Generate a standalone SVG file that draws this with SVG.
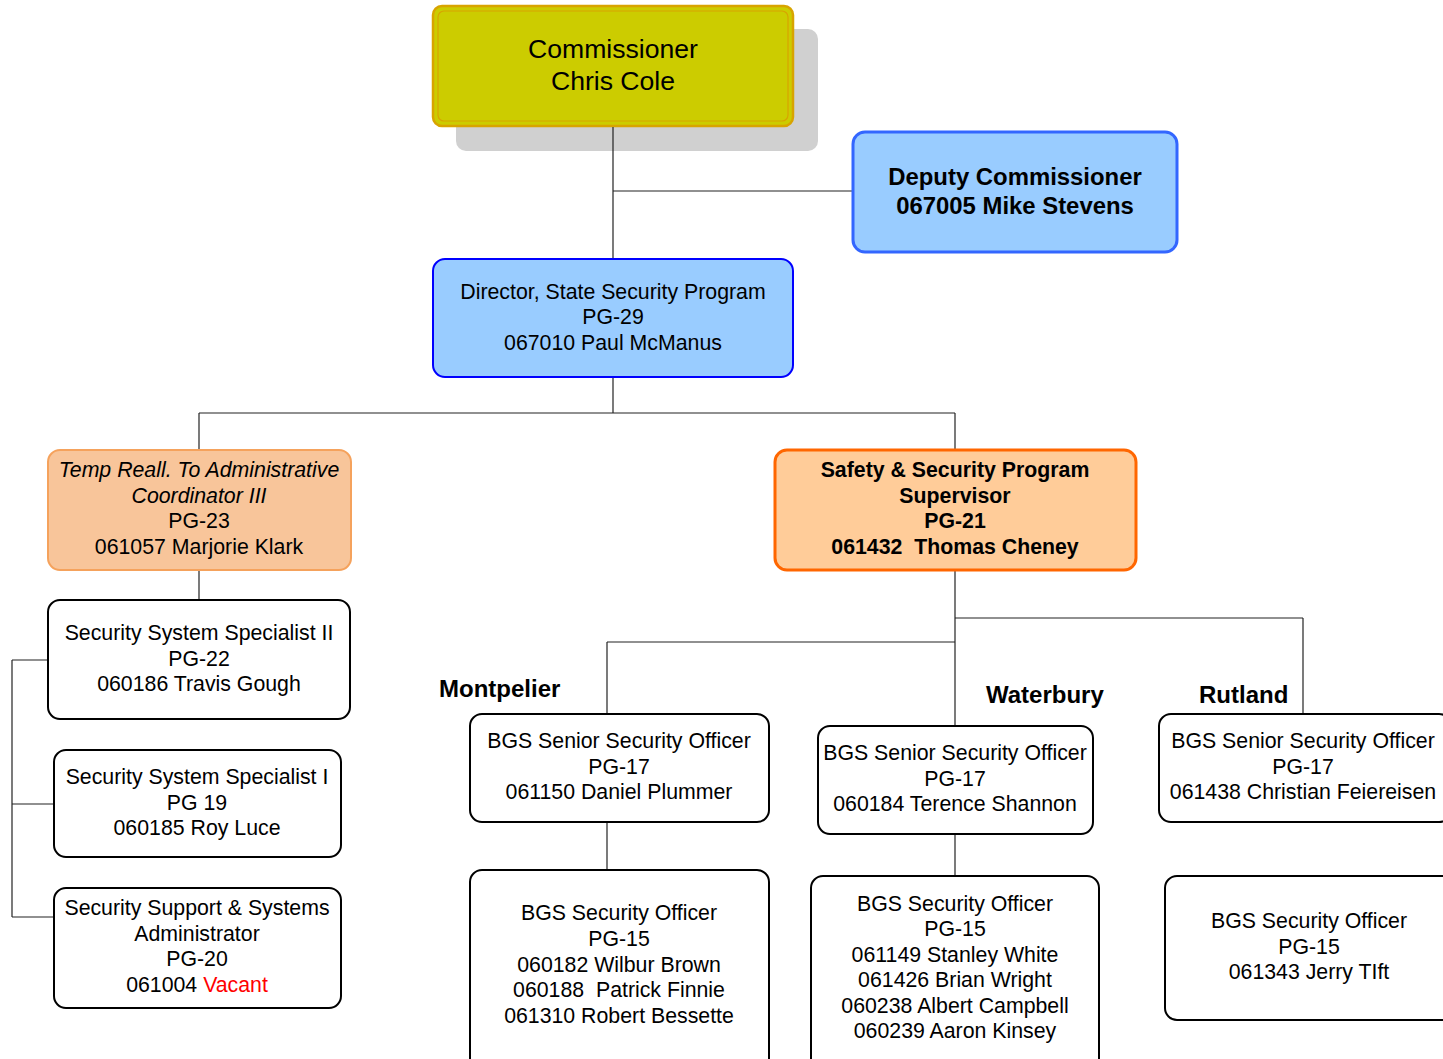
<svg xmlns="http://www.w3.org/2000/svg" width="1443" height="1059" viewBox="0 0 1443 1059">
<style>
text{font-family:"Liberation Sans",Arial,sans-serif;font-size:21.3px;fill:#000;text-anchor:middle;white-space:pre}
.b{font-weight:bold}
.i{font-style:italic}
.loc{font-weight:bold;font-size:24px;text-anchor:start}
.wbox{fill:#fff;stroke:#000;stroke-width:2}
.conn line{stroke:#222;stroke-width:1.2}
</style>
<rect width="1443" height="1059" fill="#fff"/>
<g id="commissioner">
<rect x="456" y="29" width="362" height="122" rx="10" fill="#d0d0d0"/>
<rect x="433" y="6" width="360" height="120" rx="9" fill="#cccc00" stroke="#d8a400" stroke-width="2.5"/>
<rect x="438" y="11" width="350" height="110" rx="6" fill="none" stroke="#d8a400" stroke-width="1.2"/>
<text x="613" y="58" style="font-size:26.6px">Commissioner</text>
<text x="613" y="90" style="font-size:26.6px">Chris Cole</text>
</g>
<g class="conn">
<line x1="613" y1="127" x2="613" y2="259"/>
<line x1="613" y1="191" x2="853" y2="191"/>
<line x1="613" y1="377" x2="613" y2="413"/>
<line x1="199" y1="413" x2="955" y2="413"/>
<line x1="199" y1="413" x2="199" y2="450"/>
<line x1="955" y1="413" x2="955" y2="450"/>
<line x1="199" y1="570" x2="199" y2="600"/>
<line x1="12" y1="660" x2="12" y2="917"/>
<line x1="12" y1="660" x2="48" y2="660"/>
<line x1="12" y1="804" x2="54" y2="804"/>
<line x1="12" y1="917" x2="54" y2="917"/>
<line x1="955" y1="570" x2="955" y2="726"/>
<line x1="955" y1="618" x2="1303" y2="618"/>
<line x1="1303" y1="618" x2="1303" y2="714"/>
<line x1="607" y1="642" x2="955" y2="642"/>
<line x1="607" y1="642" x2="607" y2="714"/>
<line x1="607" y1="822" x2="607" y2="870"/>
<line x1="955" y1="834" x2="955" y2="876"/>
</g>
<g id="deputy">
<rect x="853" y="132" width="324" height="120" rx="12" fill="#99ccff" stroke="#3366ff" stroke-width="3"/>
<text x="1015" y="185" class="b" style="font-size:23.9px">Deputy Commissioner</text>
<text x="1015" y="214" class="b" style="font-size:23.9px">067005 Mike Stevens</text>
</g>
<g id="director">
<rect x="433" y="259" width="360" height="118" rx="12" fill="#99ccff" stroke="#0000ff" stroke-width="2"/>
<text x="613" y="299">Director, State Security Program</text>
<text x="613" y="324">PG-29</text>
<text x="613" y="350">067010 Paul McManus</text>
</g>
<g id="temp">
<rect x="48" y="450" width="303" height="120" rx="12" fill="#f8c59a" stroke="#f5a25c" stroke-width="2"/>
<text x="199" y="477" class="i">Temp Reall. To Administrative</text>
<text x="199" y="503" class="i">Coordinator III</text>
<text x="199" y="528">PG-23</text>
<text x="199" y="554">061057 Marjorie Klark</text>
</g>
<g id="supervisor">
<rect x="775" y="450" width="361" height="120" rx="12" fill="#ffcc99" stroke="#ff6600" stroke-width="3"/>
<text x="955" y="477" class="b">Safety &amp; Security Program</text>
<text x="955" y="503" class="b">Supervisor</text>
<text x="955" y="528" class="b">PG-21</text>
<text x="955" y="554" class="b" xml:space="preserve">061432  Thomas Cheney</text>
</g>
<g id="sss2">
<rect class="wbox" x="48" y="600" width="302" height="119" rx="12"/>
<text x="199" y="640">Security System Specialist II</text>
<text x="199" y="666">PG-22</text>
<text x="199" y="691">060186 Travis Gough</text>
</g>
<g id="sss1">
<rect class="wbox" x="54" y="750" width="287" height="107" rx="12"/>
<text x="197" y="784">Security System Specialist I</text>
<text x="197" y="810">PG 19</text>
<text x="197" y="835">060185 Roy Luce</text>
</g>
<g id="ssa">
<rect class="wbox" x="54" y="888" width="287" height="120" rx="12"/>
<text x="197" y="915">Security Support &amp; Systems</text>
<text x="197" y="941">Administrator</text>
<text x="197" y="966">PG-20</text>
<text x="197" y="992">061004 <tspan fill="#ff0000">Vacant</tspan></text>
</g>
<g id="labels">
<text x="439" y="697" class="loc">Montpelier</text>
<text x="986" y="703" class="loc">Waterbury</text>
<text x="1199" y="703" class="loc">Rutland</text>
</g>
<g id="mont-senior">
<rect class="wbox" x="470" y="714" width="299" height="108" rx="12"/>
<text x="619" y="748">BGS Senior Security Officer</text>
<text x="619" y="774">PG-17</text>
<text x="619" y="799">061150 Daniel Plummer</text>
</g>
<g id="mont-officer">
<rect class="wbox" x="470" y="870" width="299" height="200" rx="12"/>
<text x="619" y="920">BGS Security Officer</text>
<text x="619" y="946">PG-15</text>
<text x="619" y="972">060182 Wilbur Brown</text>
<text x="619" y="997" xml:space="preserve">060188  Patrick Finnie</text>
<text x="619" y="1023">061310 Robert Bessette</text>
</g>
<g id="wat-senior">
<rect class="wbox" x="818" y="726" width="275" height="108" rx="12"/>
<text x="955" y="760">BGS Senior Security Officer</text>
<text x="955" y="786">PG-17</text>
<text x="955" y="811">060184 Terence Shannon</text>
</g>
<g id="wat-officer">
<rect class="wbox" x="811" y="876" width="288" height="200" rx="12"/>
<text x="955" y="911">BGS Security Officer</text>
<text x="955" y="936">PG-15</text>
<text x="955" y="962">061149 Stanley White</text>
<text x="955" y="987">061426 Brian Wright</text>
<text x="955" y="1013">060238 Albert Campbell</text>
<text x="955" y="1038">060239 Aaron Kinsey</text>
</g>
<g id="rut-senior">
<rect class="wbox" x="1159" y="714" width="292" height="108" rx="12"/>
<text x="1303" y="748">BGS Senior Security Officer</text>
<text x="1303" y="774">PG-17</text>
<text x="1303" y="799">061438 Christian Feiereisen</text>
</g>
<g id="rut-officer">
<rect class="wbox" x="1165" y="876" width="290" height="144" rx="12"/>
<text x="1309" y="928">BGS Security Officer</text>
<text x="1309" y="954">PG-15</text>
<text x="1309" y="979">061343 Jerry TIft</text>
</g>
</svg>
